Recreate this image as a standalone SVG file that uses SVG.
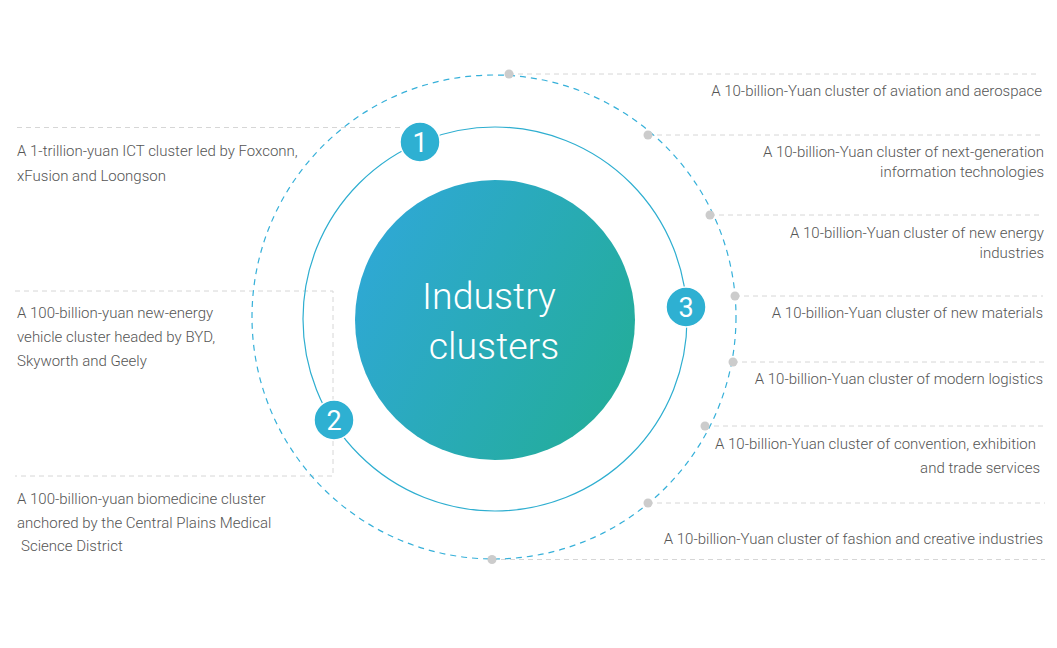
<svg xmlns="http://www.w3.org/2000/svg" width="1057" height="648" viewBox="0 0 1057 648">
  <defs>
    <linearGradient id="core" x1="0" y1="0.25" x2="1" y2="0.75">
      <stop offset="0" stop-color="#2fa8d6"/>
      <stop offset="1" stop-color="#23ad99"/>
    </linearGradient>
    <style>
      .lbl { font-family: Roboto, "Liberation Sans", sans-serif; font-weight: 300; font-size: 15px; fill: #555; }
      .r { text-anchor: end; }
      .guide { fill: none; stroke: #d6d6d6; stroke-width: 1; stroke-dasharray: 5 4; }
      .dot { fill: #cccccc; }
      .badge { fill: #2eb0d2; stroke: #fff; stroke-width: 1.5; }
      .num { font-family: Roboto, "Liberation Sans", sans-serif; font-size: 27px; fill: #fff; text-anchor: middle; }
      .title { font-family: Roboto, "Liberation Sans", sans-serif; font-weight: 300; font-size: 37.5px; fill: #fff; text-anchor: middle; }
    </style>
  </defs>
  <rect width="1057" height="648" fill="#fff"/>

  <g id="connectors">
    <path class="guide" d="M17 127.5 H400"/>
    <path class="guide" d="M15 291 H333 V476 H15"/>
    <path class="guide" d="M509 74 H1040"/>
    <path class="guide" d="M648 135 H1042"/>
    <path class="guide" d="M710 215 H1043"/>
    <path class="guide" d="M735 296 H1043"/>
    <path class="guide" d="M733 362 H1044"/>
    <path class="guide" d="M705 426 H1043"/>
    <path class="guide" d="M648 503 H1045"/>
    <path class="guide" d="M492 559.5 H1045"/>
  </g>

  <g id="rings">
    <circle cx="494" cy="317" r="242" fill="none" stroke="#36b0d9" stroke-width="1.2" stroke-dasharray="6 5"/>
    <circle cx="495" cy="319" r="192" fill="none" stroke="#2eaed0" stroke-width="1.2"/>
  </g>

  <g id="dots">
    <circle class="dot" cx="509" cy="74" r="4.5"/>
    <circle class="dot" cx="648" cy="135" r="4.5"/>
    <circle class="dot" cx="710" cy="215" r="4.5"/>
    <circle class="dot" cx="735" cy="296" r="4.5"/>
    <circle class="dot" cx="733" cy="362" r="4.5"/>
    <circle class="dot" cx="705" cy="426" r="4.5"/>
    <circle class="dot" cx="648" cy="503" r="4.5"/>
    <circle class="dot" cx="492" cy="559.5" r="4.5"/>
  </g>

  <g id="core-node">
    <circle cx="495" cy="320" r="140" fill="url(#core)"/>
    <text class="title" x="489" y="309">Industry</text>
    <text class="title" x="494" y="359">clusters</text>
  </g>

  <g id="badge-1">
    <circle class="badge" cx="420" cy="142" r="20"/>
    <text class="num" x="420" y="152">1</text>
  </g>
  <g id="badge-2">
    <circle class="badge" cx="334" cy="420" r="20"/>
    <text class="num" x="334" y="430">2</text>
  </g>
  <g id="badge-3">
    <circle class="badge" cx="686" cy="307" r="20"/>
    <text class="num" x="686" y="317">3</text>
  </g>

  <g id="left-labels">
    <g id="label-ict">
      <text class="lbl" x="17" y="156">A 1-trillion-yuan ICT cluster led by Foxconn,</text>
      <text class="lbl" x="17" y="181">xFusion and Loongson</text>
    </g>
    <g id="label-nev">
      <text class="lbl" x="17" y="318">A 100-billion-yuan new-energy</text>
      <text class="lbl" x="17" y="342">vehicle cluster headed by BYD,</text>
      <text class="lbl" x="17" y="366">Skyworth and Geely</text>
    </g>
    <g id="label-bio">
      <text class="lbl" x="17" y="504">A 100-billion-yuan biomedicine cluster</text>
      <text class="lbl" x="17" y="528">anchored by the Central Plains Medical</text>
      <text class="lbl" x="21" y="551">Science District</text>
    </g>
  </g>

  <g id="right-labels">
    <g id="label-aviation">
      <text class="lbl r" x="1042" y="96">A 10-billion-Yuan cluster of aviation and aerospace</text>
    </g>
    <g id="label-ngit">
      <text class="lbl r" x="1044" y="157">A 10-billion-Yuan cluster of next-generation</text>
      <text class="lbl r" x="1044" y="177">information technologies</text>
    </g>
    <g id="label-energy">
      <text class="lbl r" x="1044" y="238">A 10-billion-Yuan cluster of new energy</text>
      <text class="lbl r" x="1044" y="258">industries</text>
    </g>
    <g id="label-materials">
      <text class="lbl r" x="1043" y="318">A 10-billion-Yuan cluster of new materials</text>
    </g>
    <g id="label-logistics">
      <text class="lbl r" x="1043" y="384">A 10-billion-Yuan cluster of modern logistics</text>
    </g>
    <g id="label-convention">
      <text class="lbl r" x="1036" y="449">A 10-billion-Yuan cluster of convention, exhibition</text>
      <text class="lbl r" x="1040" y="473">and trade services</text>
    </g>
    <g id="label-fashion">
      <text class="lbl r" x="1043" y="544">A 10-billion-Yuan cluster of fashion and creative industries</text>
    </g>
  </g>
</svg>
